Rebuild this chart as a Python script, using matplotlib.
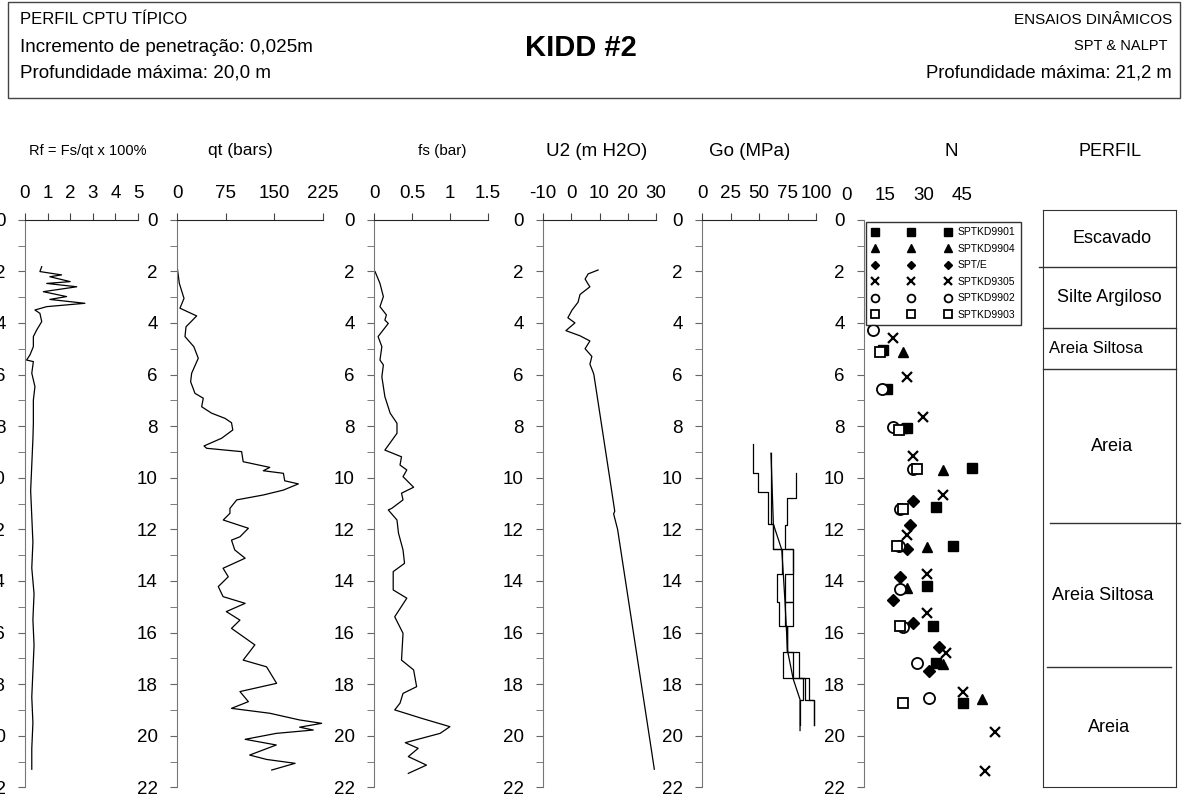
import matplotlib.pyplot as plt
import numpy as np
from matplotlib.ticker import MultipleLocator, FuncFormatter
from matplotlib.patches import Rectangle
from matplotlib.transforms import ScaledTranslation

plt.rcParams['font.family'] = ['Liberation Sans', 'DejaVu Sans']

W, H = 1184, 798

# ---- CPTU data (depth in m) ----
rf_depth = [1.82, 2.01, 2.14, 2.21, 2.40, 2.47, 2.60, 2.79, 2.98, 3.09, 3.24, 3.37, 3.50, 3.63,
            3.95, 4.27, 4.53, 4.92, 5.24, 5.44, 5.50, 5.95, 6.47, 6.99, 7.89, 8.5, 9.5, 10.5,
            11.5, 12.5, 13.5, 14.5, 15.5, 16.5, 17.5, 18.5, 19.5, 20.5, 21.3]
rf_val = [0.74, 0.66, 1.62, 1.10, 2.00, 0.96, 2.29, 0.81, 1.84, 1.10, 2.65, 0.96, 0.44, 0.66,
          0.74, 0.52, 0.37, 0.37, 0.22, 0.07, 0.37, 0.30, 0.44, 0.37, 0.37, 0.35, 0.30, 0.25,
          0.30, 0.35, 0.30, 0.40, 0.35, 0.40, 0.35, 0.30, 0.35, 0.30, 0.30]

qt_depth = [1.88, 2.47, 3.05, 3.43, 3.73, 4.15, 4.53, 4.92, 5.37, 5.95, 6.28, 6.73, 6.92, 7.25,
            7.50, 7.70, 7.87, 8.15, 8.47, 8.77, 8.86, 8.99, 9.38, 9.60, 9.73, 9.83, 10.12, 10.24,
            10.48, 10.67, 10.86, 11.19, 11.38, 11.64, 11.96, 12.29, 12.42, 12.80, 13.12, 13.51,
            13.84, 14.22, 14.61, 14.87, 15.19, 15.52, 15.84, 16.48, 17.07, 17.33, 17.97, 18.29,
            18.68, 18.94, 19.13, 19.39, 19.52, 19.67, 19.78, 19.91, 20.14, 20.36, 20.75, 20.92,
            21.07, 21.33]
qt_val = [0.5, 3.6, 10.8, 4.6, 30.3, 13.9, 12.3, 25.9, 32.8, 22.6, 21.0, 27.7, 40.5, 38.0,
          53.4, 74.0, 84.0, 86.0, 68.8, 41.6, 45.7, 99.6, 102, 143, 133, 164, 166, 187,
          164, 133, 92, 81.6, 81.6, 71.3, 110, 97, 84, 89, 105, 71,
          79, 63.6, 71, 105, 76, 97, 84, 120, 102, 138, 153.5, 97,
          110, 84, 143, 189, 223, 189, 210, 153, 105, 153, 112, 138,
          182, 146]

fs_depth = [2.01, 2.47, 2.98, 3.37, 3.69, 3.89, 4.02, 4.53, 4.92, 5.44, 5.63, 6.09, 6.86, 7.50,
            7.89, 8.28, 8.93, 9.19, 9.51, 9.70, 9.96, 10.37, 10.60, 10.86, 11.19, 11.25, 11.64,
            12.15, 12.80, 13.32, 13.64, 14.35, 14.67, 15.39, 16.03, 17.07, 17.45, 18.10, 18.36,
            18.74, 19.00, 19.33, 19.65, 19.91, 20.27, 20.49, 20.81, 21.14, 21.46]
fs_val = [0.01, 0.075, 0.12, 0.075, 0.16, 0.14, 0.185, 0.05, 0.10, 0.075, 0.12, 0.10, 0.14, 0.21,
          0.30, 0.30, 0.14, 0.36, 0.34, 0.43, 0.38, 0.52, 0.36, 0.38, 0.23, 0.185, 0.30,
          0.32, 0.38, 0.40, 0.25, 0.25, 0.43, 0.27, 0.38, 0.36, 0.52, 0.56, 0.38,
          0.34, 0.27, 0.63, 1.00, 0.87, 0.41, 0.58, 0.45, 0.69, 0.45]

u2_depth = [1.95, 2.1, 2.3, 2.5, 2.6, 2.9, 3.2, 3.5, 3.8, 4.0, 4.3, 4.5, 4.7, 5.0, 5.3, 5.6,
            5.9, 6.0, 8.0, 10.0, 11.3, 11.4, 12.0, 14.0, 16.0, 18.0, 20.0, 20.5, 21.3]
u2_val = [9.5, 6.0, 4.9, 6.0, 6.6, 3.1, 2.4, 0.3, -1.2, 1.3, -1.9, 3.1, 6.6, 4.9, 7.3, 6.6,
          7.7, 8.0, 10.8, 13.6, 15.4, 15.0, 16.4, 19.2, 22.0, 24.8, 27.6, 28.3, 29.4]

# ---- Go (MPa), seismic layers: tops of layers and layer values ----
go_tops = [
    [8.7, 9.8, 10.55, 11.8, 12.75, 13.75, 14.8, 15.75, 16.75, 17.75, 18.6, 19.6],
    [9.05, 10.8, 11.8, 12.75, 13.75, 14.8, 15.75, 16.75, 17.75, 18.6, 19.6],
    [9.8, 10.8, 11.85, 12.75, 13.75, 14.8, 15.75, 16.75, 17.75, 18.6, 19.6],
]
go_vals = [
    [44.5, 48.9, 58.2, 62.6, 69.9, 66.1, 67.5, 74.9, 71.3, 88.9, 86.0],
    [60.5, 60.5, 62.6, 80.1, 72.8, 80.1, 74.9, 85.4, 90.4, 98.5],
    [82.5, 74.3, 72.8, 80.1, 80.1, 72.8, 74.9, 80.1, 94.2, 98.5],
]
go_line_depth = [9.05, 11.8, 12.8, 14.8, 16.7, 17.8, 18.6, 19.8]
go_line_val = [60.5, 62.6, 70.0, 72.8, 75.0, 80.0, 86.0, 86.0]

# ---- SPT N ----
spt_names = ['SPTKD9901', 'SPTKD9904', 'SPT/E', 'SPTKD9305', 'SPTKD9902', 'SPTKD9903']
spt_depth = [
    [5.05, 6.57, 8.09, 9.61, 11.15, 12.65, 14.19, 15.74, 17.17, 18.72],
    [5.14, 8.09, 9.70, 12.67, 14.26, 17.22, 18.59],
    [10.89, 11.83, 12.78, 13.84, 14.74, 15.62, 16.57, 17.49],
    [4.60, 6.11, 7.64, 9.16, 10.67, 12.22, 13.73, 15.26, 16.78, 18.32, 19.84, 21.36],
    [4.28, 6.57, 8.02, 9.67, 11.21, 12.65, 14.31, 15.80, 17.19, 18.55],
    [5.12, 8.15, 9.67, 11.21, 12.65, 15.75, 18.74],
]
spt_n = [
    [7.6, 9.1, 16.7, 42.5, 28.2, 34.8, 24.6, 27.2, 28.2, 38.7],
    [15.4, 14.8, 30.9, 24.6, 17.0, 31.1, 46.4],
    [19.3, 18.0, 16.7, 14.1, 11.5, 19.3, 29.4, 25.5],
    [11.5, 16.7, 23.3, 19.1, 30.9, 16.7, 24.6, 24.6, 32.2, 38.7, 51.4, 47.5],
    [3.6, 6.9, 11.3, 19.1, 14.1, 13.7, 14.1, 15.2, 20.7, 25.6],
    [6.3, 13.8, 20.7, 15.2, 12.8, 14.1, 15.4],
]

# ---- soil profile ----
layer_bounds = [-0.38, 1.83, 4.2, 5.79, 11.76, 17.34, 22.0]
layer_names = ['Escavado', 'Silte Argiloso', 'Areia Siltosa', 'Areia', 'Areia Siltosa', 'Areia']


fig = plt.figure(figsize=(W / 100, H / 100), dpi=100)


def px_axes(x0, y0, x1, y1):
    return fig.add_axes([x0 / W, 1 - y1 / H, (x1 - x0) / W, (y1 - y0) / H])


def ftext(x, y, s, **kw):
    fig.text(x / W, 1 - y / H, s, **kw)


def depth_axes(x0, x1, xlim, xticks, title, title_x, title_size):
    ax = px_axes(x0, 219.7, x1, 787.3)
    ax.set_ylim(22, 0)
    ax.set_xlim(*xlim)
    ax.xaxis.tick_top()
    ax.set_xticks(xticks)
    ax.xaxis.set_major_formatter(FuncFormatter(lambda v, p: f'{v:g}'))
    ax.yaxis.set_major_locator(MultipleLocator(2))
    ax.yaxis.set_minor_locator(MultipleLocator(1))
    ax.tick_params(axis='x', direction='out', length=5, pad=8, labelsize=13.5, color='#444')
    ax.tick_params(axis='y', which='both', direction='out', length=5, pad=9, labelsize=13.5,
                   color='#666')
    for s in ['right', 'bottom']:
        ax.spines[s].set_visible(False)
    ax.spines['left'].set_color('#777')
    ax.spines['top'].set_color('#222')
    ax.patch.set_alpha(0)
    ftext(title_x, 151, title, ha='center', va='center', fontsize=title_size)
    return ax


# header box
fig.patches.append(Rectangle((8 / W, 1 - 98 / H), 1172 / W, 96 / H, transform=fig.transFigure,
                             fill=False, edgecolor='#444', lw=1))
ftext(20, 20, 'PERFIL CPTU TÍPICO', ha='left', va='center', fontsize=12)
ftext(20, 47, 'Incremento de penetração: 0,025m', ha='left', va='center', fontsize=13.6)
ftext(20, 73, 'Profundidade máxima: 20,0 m', ha='left', va='center', fontsize=13.6)
ftext(581, 48, 'KIDD #2', ha='center', va='center', fontsize=21, fontweight='bold')
ftext(1172, 20, 'ENSAIOS DINÂMICOS', ha='right', va='center', fontsize=11)
ftext(1168, 46, 'SPT & NALPT', ha='right', va='center', fontsize=10.5)
ftext(1172, 73, 'Profundidade máxima: 21,2 m', ha='right', va='center', fontsize=13.3)

# Rf
ax = depth_axes(25, 138, (0, 5), [0, 1, 2, 3, 4, 5], 'Rf = Fs/qt x 100%', 88, 10.5)
ax.plot(rf_val, rf_depth, color='black', lw=0.9)

# qt
ax = depth_axes(177, 323, (0, 225), [0, 75, 150, 225], 'qt (bars)', 240, 12.5)
ax.plot(qt_val, qt_depth, color='black', lw=0.9)

# fs
ax = depth_axes(374.3, 487.7, (0, 1.5), [0, 0.5, 1, 1.5], 'fs (bar)', 442, 11)
ax.plot(fs_val, fs_depth, color='black', lw=0.9)

# U2
ax = depth_axes(543, 656, (-10, 30), [-10, 0, 10, 20, 30], 'U2 (m H2O)', 597, 13.5)
ax.plot(u2_val, u2_depth, color='black', lw=0.9)

# Go
ax = depth_axes(702, 816, (0, 100), [0, 25, 50, 75, 100], 'Go (MPa)', 750, 13.5)
for tops, vals in zip(go_tops, go_vals):
    t = np.asarray(tops)
    xs = np.repeat(vals, 2)
    ys = np.column_stack([t[:-1], t[1:]]).ravel()
    ax.plot(xs, ys, color='black', lw=0.9)
ax.plot(go_line_val, go_line_depth, color='black', lw=0.9)

# N
ax = depth_axes(864, 1017, (0, 60), [0, 15, 30, 45], 'N', 951, 13.5)
ax.spines['top'].set_visible(False)
ax.tick_params(axis='x', length=0, pad=11.6)
shift = ScaledTranslation(-17 / 100, 0, fig.dpi_scale_trans)
for lab in ax.get_xticklabels():
    lab.set_transform(lab.get_transform() + shift)
styles = [
    dict(marker='s', mfc='black', mec='black', ms=7.5),
    dict(marker='^', mfc='black', mec='black', ms=7.5),
    dict(marker='D', mfc='black', mec='black', ms=6),
    dict(marker='x', mfc='black', mec='black', ms=7.5, mew=1.6),
    dict(marker='o', mfc='white', mec='black', ms=8, mew=1.3),
    dict(marker='s', mfc='white', mec='black', ms=7.5, mew=1.3),
]
for name, d, n, st in zip(spt_names, spt_depth, spt_n, styles):
    ax.plot(n, d, ls='none', label=name, clip_on=False, **st)
leg = ax.legend(loc='upper left', bbox_to_anchor=((866 - 864) / 153, 1 - 2 / 567.6),
                numpoints=3, handlelength=7.6, handletextpad=0.6, fontsize=7.5,
                labelspacing=0.62, borderpad=0.55, frameon=True, fancybox=False,
                markerscale=0.7, borderaxespad=0)
leg.get_frame().set_edgecolor('black')
leg.get_frame().set_linewidth(1)

# profile
ax = px_axes(1043, 219.7 - 0.38 * 25.8, 1176, 787.3)
ax.set_ylim(22, -0.38)
ax.set_xlim(0, 1)
ax.set_xticks([])
ax.set_yticks([])
for s in ax.spines.values():
    s.set_color('#333')
line_ext = [(-0.03, 1.0), (0, 1.0), (0, 1.0), (0.05, 1.03), (0.03, 0.96)]
for b, (xa, xb) in zip(layer_bounds[1:-1], line_ext):
    ax.plot([xa, xb], [b, b], color='#333', lw=1, clip_on=False)
name_x = [0.52, 0.5, 0.4, 0.52, 0.45, 0.5]
name_size = [13, 13, 12, 13, 13, 13]
for top, bot, name, nx, fsz in zip(layer_bounds[:-1], layer_bounds[1:], layer_names, name_x,
                                   name_size):
    ax.text(nx, (top + bot) / 2, name, ha='center', va='center', fontsize=fsz)
ftext(1110, 151, 'PERFIL', ha='center', va='center', fontsize=13)

fig.savefig('out.png', dpi=100)
